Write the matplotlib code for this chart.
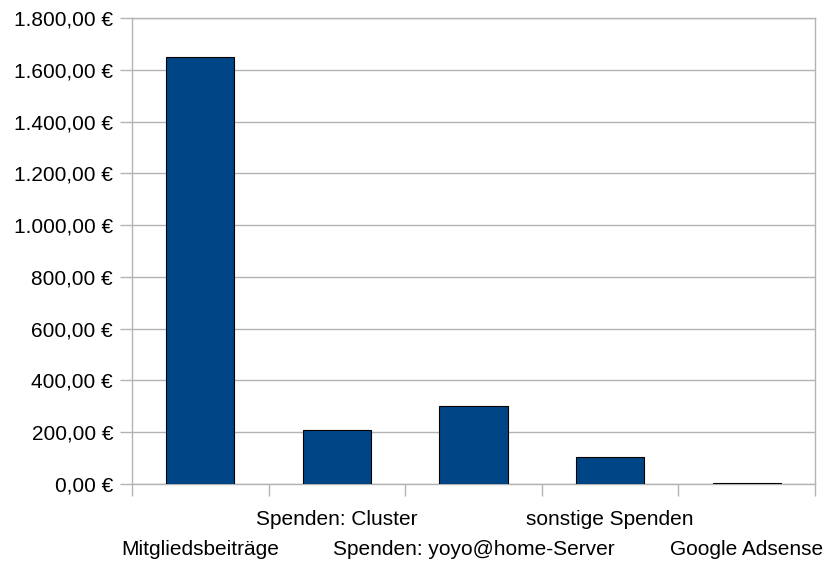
import numpy as np
import matplotlib
matplotlib.use('Agg')
import matplotlib.pyplot as plt
from matplotlib.ticker import FuncFormatter

categories = ['Mitgliedsbeiträge', 'Spenden: Cluster', 'Spenden: yoyo@home-Server',
              'sonstige Spenden', 'Google Adsense']
values = [1650, 210, 300, 103, 2]
y_ticks = np.arange(0, 1801, 200)

plt.rcParams['font.family'] = ['Liberation Sans', 'DejaVu Sans']
plt.rcParams['font.size'] = 15

grid_col = '#b3b3b3'
bar_col = '#004586'


def euro(v, pos=None):
	s = '{:,.2f}'.format(v)
	s = s.replace(',', 'X').replace('.', ',').replace('X', '.')
	return s + ' €'


fig = plt.figure(figsize=(8.32, 5.62), dpi=100)
ax = fig.add_axes([132 / 832, 78 / 562, 683 / 832, 466 / 562])

x = np.arange(len(categories))
ax.bar(x, values, width=0.5, color=bar_col, edgecolor='black', linewidth=0.8, zorder=3)

ax.set_xlim(-0.5, len(categories) - 0.5)
ax.set_ylim(0, 1800)
ax.set_yticks(y_ticks)
ax.yaxis.set_major_formatter(FuncFormatter(euro))
ax.grid(axis='y', color=grid_col, linewidth=1.0, zorder=0)

# tick marks at category boundaries, labels at the centres (staggered in two rows)
ax.set_xticks(np.arange(-0.5, len(categories)), labels=[])
ax.set_xticks(x, minor=True)
ax.set_xticklabels(categories, minor=True)
ax.tick_params(axis='x', which='minor', length=0)
for i, t in enumerate(ax.xaxis.get_minor_ticks()):
	t.set_pad(40.0 if i % 2 == 0 else 18.5)
ax.tick_params(axis='x', which='major', length=8.6, color=grid_col, width=1.0)
ax.tick_params(axis='y', length=8.6, color=grid_col, width=1.0, pad=5)

for sp in ax.spines.values():
	sp.set_color(grid_col)
	sp.set_linewidth(1.0)

fig.savefig('out.png', dpi=100)
